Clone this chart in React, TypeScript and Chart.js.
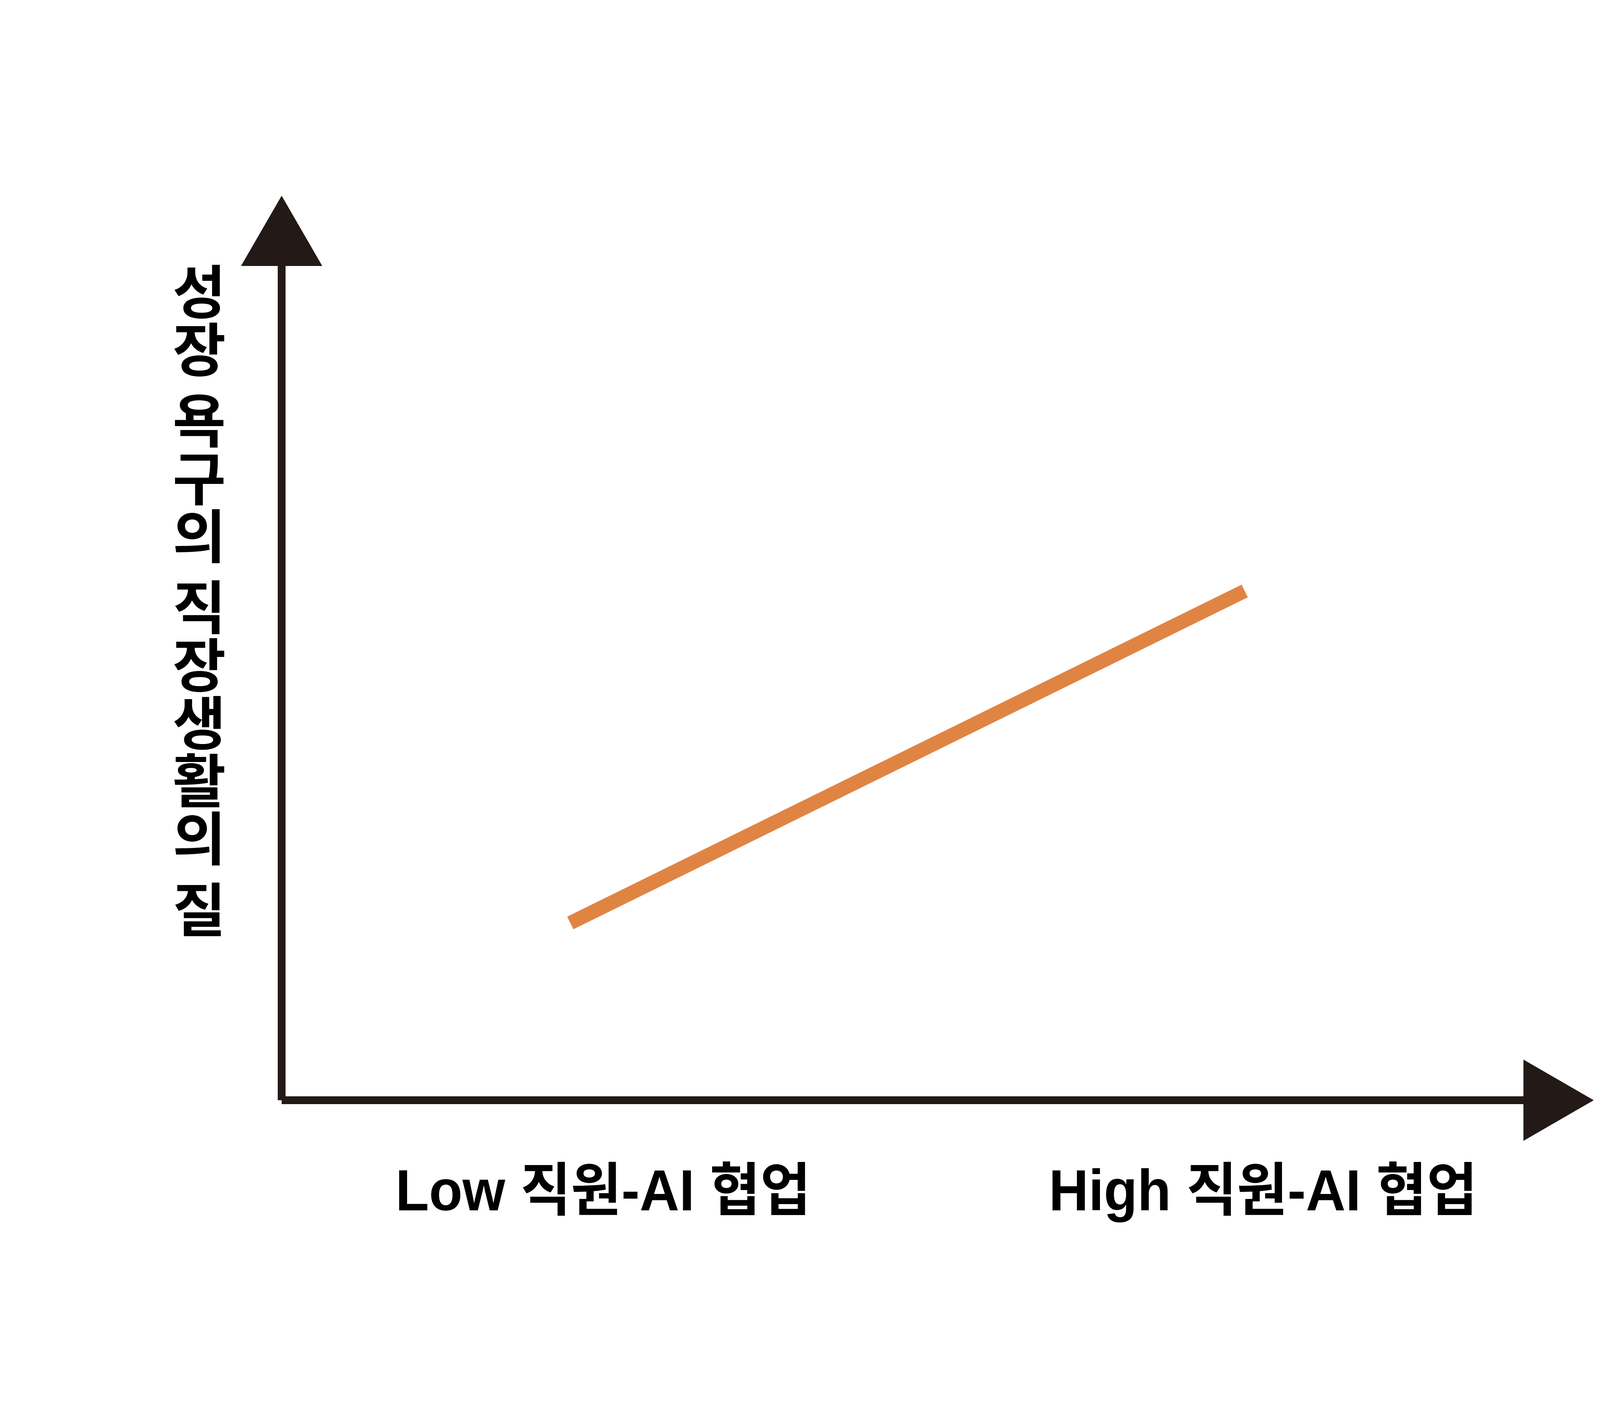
import { useEffect, useRef } from "react";
import { Chart, registerables, Plugin } from "chart.js";

Chart.register(...registerables);

// line values (0-100 on both axes)
const lineX = [22, 73.4];
const lineY = [19.6, 56.3];

// x-axis labels and where they sit on the x scale
const xLabels = ["Low 직원-AI 협업", "High 직원-AI 협업"];
const xLabelAt = [24.5, 74.8];

// y-axis title, stacked one character per row
const yTitle = "성장 욕구의 직장생활의 질";

const AXIS_COLOR = "#231916";
const LINE_COLOR = "#e08444";
const LABEL_FONT = 'bold 148px "Liberation Sans", "Noto Sans CJK KR", sans-serif';
const TITLE_FONT = 'bold 148px "Noto Sans CJK KR", sans-serif';
// the x labels are set condensed in the original, squeeze them to these widths
const LABEL_WIDTHS = [1063, 1097];

const axesPlugin: Plugin<"line"> = {
  id: "arrowAxes",
  beforeDatasetsDraw(chart) {
    const { ctx, chartArea } = chart;
    const { left, right, top, bottom } = chartArea;
    const head = 180; // arrow head length
    const half = 104; // half arrow head width
    ctx.save();
    ctx.strokeStyle = AXIS_COLOR;
    ctx.fillStyle = AXIS_COLOR;
    ctx.lineWidth = 20;
    ctx.lineCap = "butt";

    // y axis
    ctx.beginPath();
    ctx.moveTo(left, top + head);
    ctx.lineTo(left, bottom);
    ctx.stroke();
    // x axis
    ctx.beginPath();
    ctx.moveTo(left, bottom);
    ctx.lineTo(right - head, bottom);
    ctx.stroke();

    // up arrow
    ctx.beginPath();
    ctx.moveTo(left, top);
    ctx.lineTo(left + half, top + head);
    ctx.lineTo(left - half, top + head);
    ctx.closePath();
    ctx.fill();
    // right arrow
    ctx.beginPath();
    ctx.moveTo(right, bottom);
    ctx.lineTo(right - head, bottom - half);
    ctx.lineTo(right - head, bottom + half);
    ctx.closePath();
    ctx.fill();
    ctx.restore();
  },
  afterDraw(chart) {
    const { ctx, chartArea } = chart;
    const xScale = chart.scales.x;
    ctx.save();
    ctx.fillStyle = "#000";

    // x labels
    ctx.font = LABEL_FONT;
    ctx.textAlign = "center";
    ctx.textBaseline = "alphabetic";
    xLabels.forEach((label, i) => {
      const w = ctx.measureText(label).width;
      ctx.save();
      ctx.translate(xScale.getPixelForValue(xLabelAt[i]), chartArea.bottom + 282);
      ctx.scale(LABEL_WIDTHS[i] / w, 1);
      ctx.fillText(label, 0, 0);
      ctx.restore();
    });

    // vertical y title
    ctx.font = TITLE_FONT;
    ctx.textBaseline = "middle";
    const cx = chartArea.left - 211;
    let cy = chartArea.top + 245;
    for (const ch of yTitle) {
      if (ch === " ") {
        cy += 34;
        continue;
      }
      ctx.fillText(ch, cx, cy);
      cy += 148;
    }
    ctx.restore();
  },
};

function GrowthChart() {
  const canvasRef = useRef<HTMLCanvasElement>(null);
  const chartRef = useRef<Chart<"line"> | null>(null);

  useEffect(() => {
    if (!canvasRef.current) return;
    if (chartRef.current) chartRef.current.destroy();

    chartRef.current = new Chart(canvasRef.current, {
      type: "line",
      data: {
        datasets: [
          {
            data: lineX.map((x, i) => ({ x, y: lineY[i] })),
            borderColor: LINE_COLOR,
            borderWidth: 36,
            borderCapStyle: "butt",
            pointRadius: 0,
            tension: 0,
            fill: false,
          },
        ],
      },
      options: {
        responsive: false,
        animation: false,
        devicePixelRatio: 1,
        layout: {
          padding: { left: 721, top: 501, right: 420, bottom: 829 },
        },
        plugins: {
          legend: { display: false },
          tooltip: { enabled: false },
        },
        scales: {
          x: { type: "linear", min: 0, max: 100, display: false },
          y: { type: "linear", min: 0, max: 100, display: false },
        },
      },
      plugins: [axesPlugin],
    });

    return () => {
      if (chartRef.current) {
        chartRef.current.destroy();
        chartRef.current = null;
      }
    };
  }, []);

  return <canvas ref={canvasRef} width={4500} height={3646} style={{ display: "block" }} />;
}

export default function App() {
  useEffect(() => {
    document.body.style.margin = "0";
    document.body.style.background = "#fff";
  }, []);
  return (
    <div style={{ width: 4500, height: 3646, background: "#fff" }}>
      <GrowthChart />
    </div>
  );
}
